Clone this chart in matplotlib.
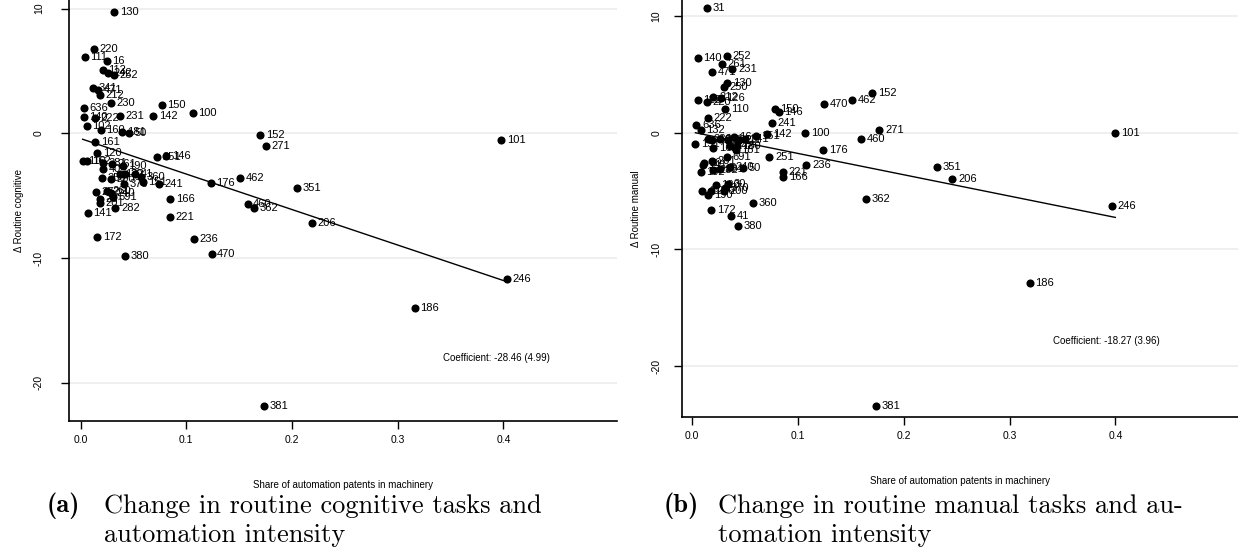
import matplotlib
matplotlib.use("Agg")
import matplotlib.pyplot as plt
import numpy as np

# ---------------- data: panel (a) routine cognitive ----------------
labels_a = ["130", "220", "111", "16", "112", "242", "252", "341", "471", "212",
            "230", "150", "636", "140", "222", "231", "142", "100", "102", "160",
            "181", "50", "161", "120", "110", "162", "281", "261", "40", "190",
            "250", "200", "132", "30", "41", "360", "151", "370", "272", "260",
            "240", "691", "20", "201", "282", "141", "251", "146", "241", "166",
            "221", "172", "380", "236", "470", "176", "462", "152", "271", "101",
            "351", "460", "362", "206", "246", "186", "381"]
share_a = [0.032, 0.013, 0.004, 0.025, 0.021, 0.026, 0.032, 0.012, 0.017, 0.018,
           0.029, 0.077, 0.003, 0.003, 0.014, 0.037, 0.069, 0.106, 0.006, 0.019,
           0.039, 0.046, 0.014, 0.016, 0.002, 0.006, 0.021, 0.030, 0.021, 0.040,
           0.020, 0.029, 0.037, 0.042, 0.052, 0.057, 0.059, 0.041, 0.015, 0.025,
           0.029, 0.031, 0.018, 0.018, 0.033, 0.007, 0.072, 0.081, 0.074, 0.085,
           0.085, 0.016, 0.042, 0.107, 0.124, 0.123, 0.151, 0.170, 0.175, 0.398,
           0.205, 0.158, 0.164, 0.219, 0.403, 0.316, 0.174]
delta_a = [9.7, 6.8, 6.1, 5.8, 5.1, 4.8, 4.7, 3.6, 3.5, 3.1,
           2.4, 2.3, 2.0, 1.3, 1.2, 1.4, 1.4, 1.6, 0.6, 0.3,
           0.1, 0.0, -0.7, -1.6, -2.2, -2.2, -2.4, -2.5, -2.9, -2.6,
           -3.6, -3.7, -3.3, -3.3, -3.3, -3.5, -3.9, -4.1, -4.7, -4.6,
           -4.8, -5.1, -5.3, -5.6, -6.0, -6.4, -1.9, -1.8, -4.1, -5.3,
           -6.7, -8.3, -9.8, -8.5, -9.7, -4.0, -3.6, -0.1, -1.0, -0.5,
           -4.4, -5.7, -6.0, -7.2, -11.7, -14.0, -21.9]
coef_a = -28.46
intercept_a = -0.42
note_a = "Coefficient: -28.46 (4.99)"

# ---------------- data: panel (b) routine manual ----------------
labels_b = ["31", "140", "252", "261", "471", "231", "130", "250", "112", "212",
            "126", "220", "110", "150", "146", "470", "462", "152", "222", "241",
            "636", "132", "142", "151", "100", "460", "271", "176", "101", "191",
            "162", "181", "230", "160", "161", "262", "16", "111", "341", "242",
            "180", "691", "251", "236", "201", "20", "141", "281", "282", "240",
            "50", "102", "221", "166", "362", "360", "172", "41", "380", "120",
            "30", "40", "190", "200", "260", "370", "206", "351", "246", "186", "381"]
share_b = [0.014, 0.005, 0.033, 0.028, 0.019, 0.038, 0.033, 0.030, 0.005, 0.020,
           0.027, 0.014, 0.031, 0.078, 0.082, 0.125, 0.151, 0.170, 0.015, 0.075,
           0.004, 0.008, 0.071, 0.060, 0.107, 0.160, 0.177, 0.124, 0.400, 0.003,
           0.020, 0.041, 0.015, 0.019, 0.026, 0.034, 0.039, 0.044, 0.050, 0.036,
           0.042, 0.033, 0.073, 0.108, 0.019, 0.011, 0.010, 0.026, 0.020, 0.036,
           0.048, 0.008, 0.086, 0.086, 0.164, 0.057, 0.018, 0.037, 0.043, 0.022,
           0.034, 0.009, 0.015, 0.030, 0.018, 0.031, 0.246, 0.231, 0.397, 0.319, 0.174]
delta_b = [10.7, 6.4, 6.6, 5.9, 5.2, 5.5, 4.3, 3.9, 2.8, 3.1,
           3.0, 2.6, 2.0, 2.0, 1.8, 2.5, 2.8, 3.4, 1.3, 0.8,
           0.7, 0.2, -0.1, -0.3, 0.0, -0.5, 0.2, -1.5, 0.0, -1.0,
           -1.3, -1.5, -0.5, -0.6, -0.5, -0.6, -0.4, -0.6, -0.5, -1.1,
           -1.1, -2.1, -2.1, -2.8, -2.4, -2.6, -2.8, -3.1, -3.2, -2.9,
           -3.0, -3.4, -3.4, -3.8, -5.7, -6.0, -6.6, -7.1, -8.0, -4.5,
           -4.4, -5.0, -5.3, -5.0, -5.0, -4.7, -4.0, -2.9, -6.3, -12.9, -23.4]
coef_b = -18.27
intercept_b = 0.05
note_b = "Coefficient: -18.27 (3.96)"

xticks = [0.0, 0.1, 0.2, 0.3, 0.4]
xtick_labels = ["0.0", "0.1", "0.2", "0.3", "0.4"]
yticks = [10, 0, -10, -20]
ytick_labels = ["10", "0", "-10", "-20"]
xlabel = "Share of automation patents in machinery"
ylabel_a = "\u0394 Routine cognitive"
ylabel_b = "\u0394 Routine manual"
cap_a = ["Change in routine cognitive tasks and", "automation intensity"]
cap_b = ["Change in routine manual tasks and au-", "tomation intensity"]

plt.rcParams['font.family'] = ['Liberation Sans', 'DejaVu Sans']

W, H = 1238, 548
fig = plt.figure(figsize=(W / 100, H / 100), dpi=100)


def panel(rect, xs, ys, labs, coef, icpt, note, note_xy, ylabel, xlim, ylim,
          ypad, ylabpad):
    ax = fig.add_axes(rect)
    ax.set_xlim(*xlim)
    ax.set_ylim(*ylim)
    for t in yticks:
        ax.axhline(t, color="#ececec", lw=1.2, zorder=0)
    ax.scatter(xs, ys, s=34, color="black", zorder=3, linewidths=0)
    for x, y, l in zip(xs, ys, labs):
        ax.annotate(l, (x, y), xytext=(4, 0), textcoords="offset points",
                    va="center", ha="left", fontsize=8, zorder=4)
    xl = np.array([min(xs), max(xs)])
    ax.plot(xl, icpt + coef * xl, color="black", lw=1.0, zorder=2)
    ax.text(note_xy[0], note_xy[1], note, fontsize=7, va="center", ha="left")
    for s in ["top", "right"]:
        ax.spines[s].set_visible(False)
    ax.spines["left"].set_linewidth(1.2)
    ax.spines["bottom"].set_linewidth(1.2)
    ax.set_xticks(xticks)
    ax.set_xticklabels(xtick_labels, fontsize=7.5)
    ax.set_yticks(yticks)
    ax.set_yticklabels(ytick_labels, fontsize=7.5, rotation=90, va="center")
    ax.tick_params(direction="out", length=6, width=1)
    ax.tick_params(axis="x", pad=4)
    ax.tick_params(axis="y", pad=ypad)
    ax.set_xlabel(xlabel, fontsize=7, labelpad=25)
    ax.set_ylabel(ylabel, fontsize=7, labelpad=ylabpad)
    return ax


panel([69 / W, 1 - 421 / H, 548 / W, 421 / H], share_a, delta_a, labels_a,
      coef_a, intercept_a, note_a, (0.343, -18.0), ylabel_a,
      (-0.0109, 0.5075), (-23.07, 10.69), 12, 7)
panel([682 / W, 1 - 417 / H, 556 / W, 417 / H], share_b, delta_b, labels_b,
      coef_b, intercept_b, note_b, (0.341, -17.85), ylabel_b,
      (-0.0097, 0.516), (-24.36, 11.37), 9, 7)

# captions
cap_fs = 19
fig.text(47 / W, 1 - 506 / H, "(a)", family="cmb10", fontsize=cap_fs, va="center")
fig.text(104 / W, 1 - 506 / H, cap_a[0], family="cmr10", fontsize=cap_fs, va="center")
fig.text(104 / W, 1 - 535 / H, cap_a[1], family="cmr10", fontsize=cap_fs, va="center")
fig.text(664 / W, 1 - 506 / H, "(b)", family="cmb10", fontsize=cap_fs, va="center")
fig.text(718 / W, 1 - 506 / H, cap_b[0], family="cmr10", fontsize=cap_fs, va="center")
fig.text(718 / W, 1 - 535 / H, cap_b[1], family="cmr10", fontsize=cap_fs, va="center")

fig.savefig("out.png", dpi=100)
